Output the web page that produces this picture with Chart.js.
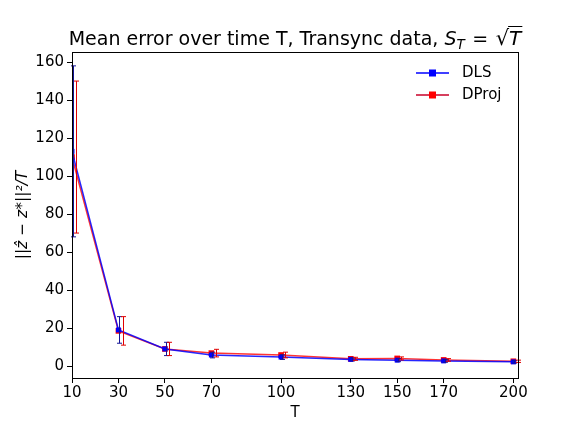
<!DOCTYPE html>
<html>
<head>
<meta charset="utf-8">
<script src="https://cdn.jsdelivr.net/npm/chart.js@4"></script>
<style>
  html, body { margin: 0; padding: 0; background: #fff; }
  #wrap { width: 576px; height: 432px; }
</style>
</head>
<body>
<div id="wrap"><canvas id="chartError" width="576" height="432"></canvas></div>
<script>
// Datos
const tiempos = [10, 30, 50, 70, 100, 130, 150, 170, 200];
const errorDLS = [113, 19, 9, 5.8, 4.7, 3.5, 3.1, 2.7, 2.2];
const barraDLS = [45, 7, 3.5, 1.5, 1.2, 0.8, 0.8, 0.7, 0.6];
const errorDProj = [110, 18.5, 9, 6.8, 5.8, 3.8, 4.0, 3.2, 2.5];
const barraDProj = [40, 7.5, 3.5, 2.0, 1.5, 0.8, 0.8, 0.7, 0.6];
const ticksY = [0, 20, 40, 60, 80, 100, 120, 140, 160];

const fuente = "'DejaVu Sans', sans-serif";

// Plugin para barras de error, marco, título y leyenda
const pluginExtras = {
  id: "extras",
  afterDatasetsDraw(chart) {
    const { ctx, scales } = chart;
    const sx = scales.x, sy = scales.y;
    const barras = [
      { y: errorDLS, e: barraDLS, dx: 0.4, color: "rgb(20,20,150)" },
      { y: errorDProj, e: barraDProj, dx: 1.8, color: "rgb(225,0,0)" },
    ];
    ctx.save();
    ctx.lineWidth = 1;
    barras.forEach((b) => {
      ctx.strokeStyle = b.color;
      tiempos.forEach((t, i) => {
        const px = Math.round(sx.getPixelForValue(t + b.dx)) + 0.5;
        const top = sy.getPixelForValue(b.y[i] + b.e[i]);
        const bot = sy.getPixelForValue(b.y[i] - b.e[i]);
        ctx.beginPath();
        ctx.moveTo(px, top); ctx.lineTo(px, bot);
        ctx.moveTo(px - 2.5, top); ctx.lineTo(px + 2.5, top);
        ctx.moveTo(px - 2.5, bot); ctx.lineTo(px + 2.5, bot);
        ctx.stroke();
      });
    });
    ctx.restore();
  },
  afterDraw(chart) {
    const { ctx, chartArea } = chart;
    ctx.save();
    // marco
    ctx.strokeStyle = "#000";
    ctx.lineWidth = 1;
    ctx.strokeRect(chartArea.left + 0.5, chartArea.top + 0.5,
      chartArea.right - chartArea.left, chartArea.bottom - chartArea.top);

    // título con fórmula
    ctx.fillStyle = "#000";
    ctx.textBaseline = "alphabetic";
    const base = 45;
    const partes = [
      { t: "Mean error over time T, Transync data, ", f: "19px " + fuente, dy: 0 },
      { t: "S", f: "italic 19px " + fuente, dy: 0 },
      { t: "T", f: "italic 13.5px " + fuente, dy: 4 },
      { t: " = ", f: "19px " + fuente, dy: 0, extra: 3 },
      { t: "\u221A", f: "21px " + fuente, dy: 0 },
      { t: "T", f: "italic 20px " + fuente, dy: 0, barra: true },
    ];
    let ancho = 0;
    partes.forEach((p) => {
      ctx.font = p.f;
      p.w = ctx.measureText(p.t).width + (p.extra || 0);
      ancho += p.w;
    });
    let x = (chartArea.left + chartArea.right) / 2 - ancho / 2;
    partes.forEach((p) => {
      ctx.font = p.f;
      ctx.fillText(p.t, x + (p.extra || 0) / 2, base + p.dy);
      if (p.barra) {
        ctx.beginPath();
        ctx.moveTo(x - 1, base - 18.5);
        ctx.lineTo(x + p.w + 1, base - 18.5);
        ctx.stroke();
      }
      x += p.w;
    });

    // leyenda
    const items = [
      { n: "DLS", linea: "rgb(0,0,255)", marca: "rgb(0,0,255)", y: 73 },
      { n: "DProj", linea: "rgb(200,0,40)", marca: "rgb(255,0,0)", y: 95 },
    ];
    items.forEach((it) => {
      ctx.strokeStyle = it.linea;
      ctx.lineWidth = 1.5;
      ctx.beginPath();
      ctx.moveTo(416, it.y); ctx.lineTo(449, it.y);
      ctx.stroke();
      ctx.fillStyle = it.marca;
      ctx.fillRect(429, it.y - 3.5, 7, 7);
      ctx.fillStyle = "#000";
      ctx.font = "15px " + fuente;
      ctx.textBaseline = "middle";
      ctx.fillText(it.n, 462, it.y);
    });
    ctx.restore();
  },
};

let chartError;

document.addEventListener("DOMContentLoaded", () => {
  const ctx = document.getElementById("chartError").getContext("2d");
  chartError = new Chart(ctx, {
    type: "line",
    data: {
      datasets: [
        {
          label: "DLS",
          data: tiempos.map((t, i) => ({ x: t, y: errorDLS[i] })),
          borderColor: "rgba(0,0,255,0.85)",
          backgroundColor: "rgb(0,0,255)",
          borderWidth: 1.5,
          pointStyle: "rect",
          pointRadius: 3.5,
          pointBorderWidth: 0,
        },
        {
          label: "DProj",
          data: tiempos.map((t, i) => ({ x: t, y: errorDProj[i] })),
          borderColor: "rgba(255,0,0,0.8)",
          backgroundColor: "rgb(255,0,0)",
          borderWidth: 1.5,
          pointStyle: "rect",
          pointRadius: 4,
          pointBorderWidth: 0,
        },
      ],
    },
    options: {
      responsive: false,
      animation: false,
      layout: { padding: { top: 52, right: 58, left: 0, bottom: 0 } },
      plugins: {
        legend: { display: false },
        title: { display: false },
        tooltip: { enabled: false },
      },
      scales: {
        x: {
          type: "linear",
          min: 10,
          max: 202,
          afterFit: (s) => { s.height = 54; },
          afterBuildTicks: (s) => { s.ticks = tiempos.map((v) => ({ value: v })); },
          grid: { drawOnChartArea: false, drawTicks: true, tickLength: 5, color: "#000" },
          border: { color: "#000" },
          ticks: { color: "#000", padding: 1, maxRotation: 0, autoSkip: false, font: { family: fuente, size: 15 } },
          title: { display: true, text: "T", color: "#000", padding: { top: 0, bottom: 10 }, font: { family: fuente, size: 15 } },
        },
        y: {
          min: -6.3,
          max: 165.3,
          afterFit: (s) => { s.width = 72; },
          afterBuildTicks: (s) => { s.ticks = ticksY.map((v) => ({ value: v })); },
          grid: { drawOnChartArea: false, drawTicks: true, tickLength: 5, color: "#000" },
          border: { color: "#000" },
          ticks: { color: "#000", padding: 3, font: { family: fuente, size: 15 } },
          title: {
            display: true,
            text: "||\u1E91 \u2212 z*||\u00B2/T",
            color: "#000",
            padding: { top: 14, bottom: 0 },
            font: { family: fuente, size: 15.5, style: "italic" },
          },
        },
      },
    },
    plugins: [pluginExtras],
  });
});
</script>
</body>
</html>
